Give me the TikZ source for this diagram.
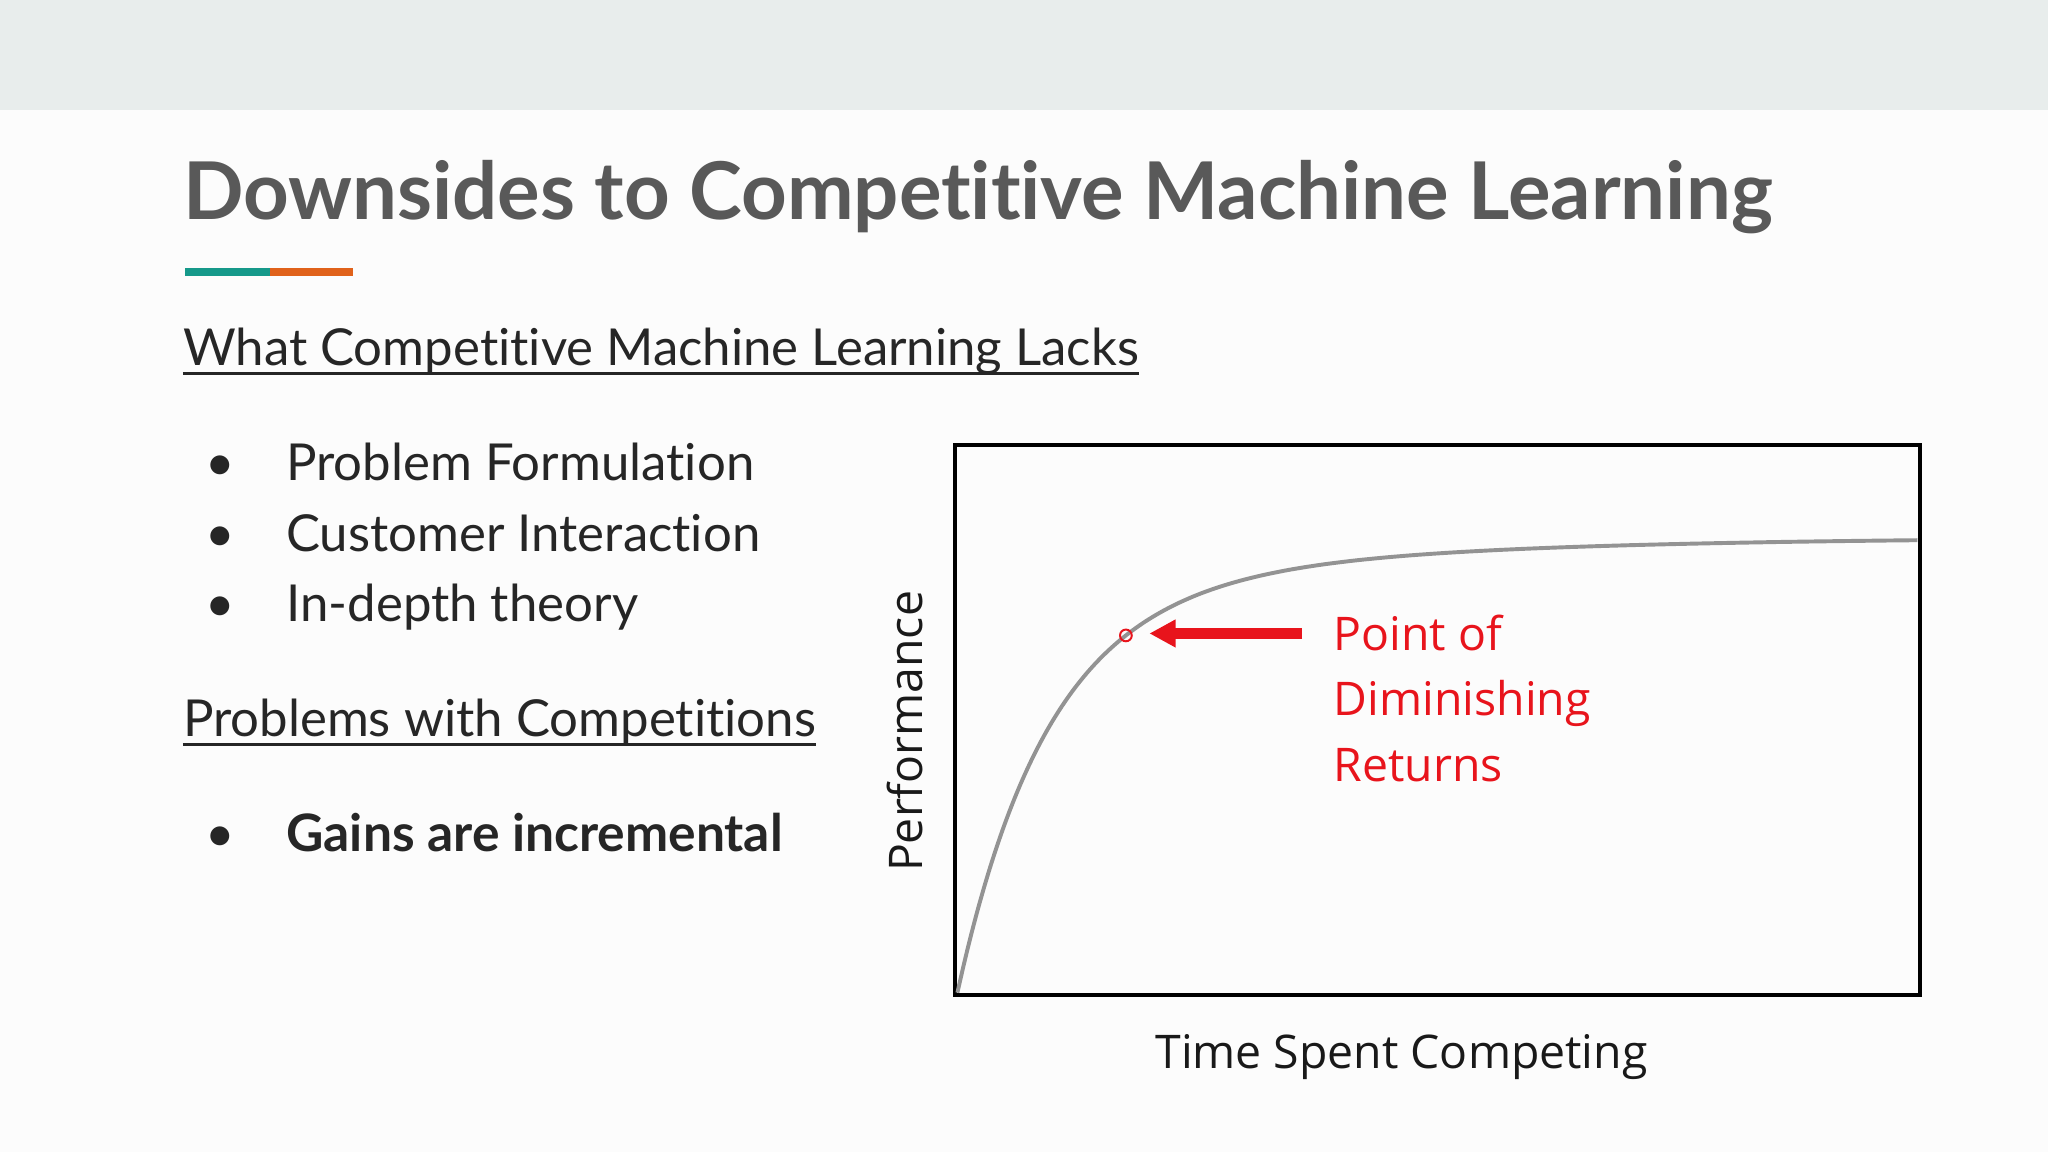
\documentclass[tikz,border=0pt]{standalone}
\usepackage{fontspec}
\setmainfont{Lato}[RawFeature={-liga;-dlig;-calt}]
\newfontfamily\chartfont{Open Sans}
\usetikzlibrary{arrows.meta}
\definecolor{band}{HTML}{E8EDEC}
\definecolor{titlegray}{HTML}{595959}
\definecolor{teal1}{HTML}{16998A}
\definecolor{orange1}{HTML}{E0621B}
\definecolor{cred}{HTML}{E8141C}
\tikzset{
  body/.style={anchor=base west,inner sep=0pt,font=\fontsize{39}{40}\selectfont,text=black!85},
  sub/.style={anchor=base west,inner sep=0pt,font=\fontsize{39}{40}\selectfont,text=black!85},
  uline/.style={line width=2pt,black!85},
  redtxt/.style={anchor=base west,inner sep=0pt,font=\chartfont\fontsize{35.5}{36}\selectfont,text=cred},
  axlab/.style={inner sep=0pt,font=\chartfont\fontsize{35.5}{36}\selectfont,text=black!90}
}
\begin{document}
\begin{tikzpicture}[x=1pt,y=-1pt]
\useasboundingbox (0,0) rectangle (1568,882);
\fill[white!99!black] (0,0) rectangle (1568,882);
\fill[band] (0,0) rectangle (1568,84);
\node[anchor=base west,inner sep=0pt,font=\bfseries\fontsize{61}{64}\selectfont,text=titlegray] (title) at (140,168) {Downsides to Competitive Machine Learning};
\fill[teal1] (142,205) rectangle (207,211);
\fill[orange1] (207,205) rectangle (270,211);
\node[sub] (s1) at (140,280) {What Competitive Machine Learning Lacks};
\draw[uline] ([yshift=-6pt]s1.base west) -- ([yshift=-6pt]s1.base east);
\node[body] (b1) at (157,368) {\textbullet};
\node[body] (t1) at (219,368) {Problem Formulation};
\node[body] (b2) at (157,422) {\textbullet};
\node[body] (t2) at (219,422) {Customer Interaction};
\node[body] (b3) at (157,476) {\textbullet};
\node[body] (t3) at (219,476) {In-depth theory};
\node[sub] (s2) at (140,564) {Problems with Competitions};
\draw[uline] ([yshift=-6pt]s2.base west) -- ([yshift=-6pt]s2.base east);
\node[body] (b4) at (157,652) {\textbullet};
\node[body,font=\bfseries\fontsize{39.5}{40}\selectfont] (t4) at (219,652) {Gains are incremental};
\draw[line width=3pt] (731,341) rectangle (1470,762);
\draw[line width=3pt,gray!85] plot[domain=733:1468,samples=150,smooth] (\x,{411+300*exp(-(\x-733)/69)+49*exp(-(\x-733)/250)});
\node[circle,draw=cred,line width=1.5pt,minimum size=9pt,inner sep=0pt] (dot) at (862,486.5) {};
\coordinate (atail) at (997,485);
\coordinate (ahead) at (880,485);
\draw[cred,line width=9pt,-{Triangle[length=20pt,width=20pt]}] (atail) -- (ahead);
\node[redtxt] (r1) at (1021,498) {Point of};
\node[redtxt] (r2) at (1021,548) {Diminishing};
\node[redtxt] (r3) at (1021,598) {Returns};
\node[axlab,rotate=90,anchor=base] (yl) at (706,560) {Performance};
\node[axlab,anchor=base] (xl) at (1073,818) {Time Spent Competing};
\end{tikzpicture}
\end{document}
